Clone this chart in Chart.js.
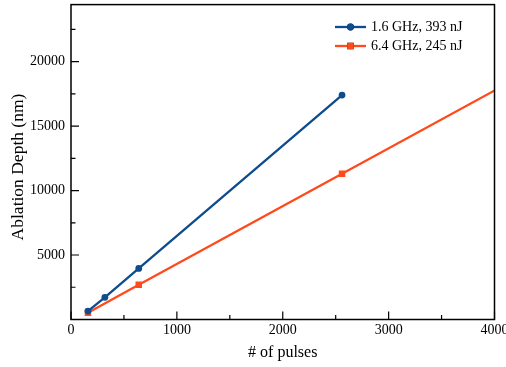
<!DOCTYPE html>
<html><head><meta charset="utf-8">
<script src="https://cdn.jsdelivr.net/npm/chart.js@4/dist/chart.umd.min.js"></script>
<style>html,body{margin:0;padding:0;background:#fff;overflow:hidden}</style>
</head><body>
<canvas id="c" width="506" height="367" style="display:block;width:506px;height:367px"></canvas>
<script>
// ---- data ----
const seriesNames = ['1.6 GHz, 393 nJ', '6.4 GHz, 245 nJ'];
const pulsesBlue = [160, 320, 640, 2560];
const depthBlue = [650, 1720, 3960, 17400];
const pulsesOrange = [160, 640, 2560, 5120];
const depthOrange = [520, 2700, 11300, 22780];
const xMajorTicks = [0, 1000, 2000, 3000, 4000];
const xMinorTicks = [500, 1500, 2500, 3500];
const yMajorTicks = [5000, 10000, 15000, 20000];
const yMinorTicks = [2500, 7500, 12500, 17500, 22500];
const xTitle = '# of pulses';
const yTitle = 'Ablation Depth (nm)';

const BLUE = '#0f4c8e';
const ORANGE = '#ff4b1c';
const FONT = "'Liberation Serif', 'Times New Roman', serif";

const toXY = (xs, ys) => xs.map((x, i) => ({x, y: ys[i]}));

const framePlugin = {
  id: 'frame',
  afterDraw(chart) {
    const {ctx, chartArea: a, scales: {x, y}} = chart;
    ctx.save();
    ctx.strokeStyle = '#000';
    ctx.lineWidth = 1.5;
    ctx.strokeRect(a.left, a.top, a.right - a.left, a.bottom - a.top);
    ctx.lineWidth = 1.2;
    ctx.beginPath();
    const tickX = (v, len) => { const px = x.getPixelForValue(v); ctx.moveTo(px, a.bottom); ctx.lineTo(px, a.bottom - len); };
    const tickY = (v, len) => { const py = y.getPixelForValue(v); ctx.moveTo(a.left, py); ctx.lineTo(a.left + len, py); };
    xMajorTicks.forEach(v => tickX(v, 8));
    xMinorTicks.forEach(v => tickX(v, 4.5));
    yMajorTicks.forEach(v => tickY(v, 8));
    yMinorTicks.forEach(v => tickY(v, 4.5));
    ctx.stroke();

    // y title
    ctx.fillStyle = '#000';
    ctx.font = "17.5px " + FONT;
    ctx.textAlign = 'center';
    ctx.textBaseline = 'middle';
    ctx.translate(18.5, 167);
    ctx.rotate(-Math.PI / 2);
    ctx.fillText(yTitle, 0, 0);
    ctx.restore();

    // legend
    ctx.save();
    ctx.font = "14px " + FONT;
    ctx.textAlign = 'left';
    ctx.textBaseline = 'middle';
    const rows = [27, 46];
    chart.data.datasets.forEach((ds, i) => {
      const yy = rows[i];
      ctx.strokeStyle = ds.borderColor;
      ctx.lineWidth = ds.borderWidth;
      ctx.beginPath(); ctx.moveTo(335, yy); ctx.lineTo(366, yy); ctx.stroke();
      Chart.helpers.drawPoint(ctx, {pointStyle: ds.pointStyle, radius: ds.pointRadius, borderWidth: 0, rotation: 0}, 350.5, yy);
      ctx.fillStyle = ds.pointBackgroundColor;
      ctx.fill();
      ctx.fillStyle = '#000';
      ctx.fillText(ds.label, 371, yy + 0.5);
    });
    ctx.restore();
  }
};

new Chart(document.getElementById('c'), {
  type: 'line',
  data: {
    datasets: [
      {label: seriesNames[0], data: toXY(pulsesBlue, depthBlue), borderColor: BLUE, backgroundColor: BLUE,
       pointBackgroundColor: BLUE, pointBorderColor: BLUE, pointBorderWidth: 0, borderWidth: 2.3,
       pointStyle: 'circle', pointRadius: 3.4, clip: 0, tension: 0},
      {label: seriesNames[1], data: toXY(pulsesOrange, depthOrange), borderColor: ORANGE, backgroundColor: ORANGE,
       pointBackgroundColor: ORANGE, pointBorderColor: ORANGE, pointBorderWidth: 0, borderWidth: 2.3,
       pointStyle: 'rect', pointRadius: 4.6, clip: 0, tension: 0}
    ]
  },
  options: {
    responsive: false,
    devicePixelRatio: 1,
    animation: false,
    layout: {padding: {top: 1, right: 11.5, left: 0, bottom: 0}},
    plugins: {legend: {display: false}, tooltip: {enabled: false}},
    scales: {
      x: {
        type: 'linear', min: 0, max: 4000,
        grid: {display: false, drawTicks: false}, border: {display: false},
        ticks: {color: '#000', font: {family: FONT, size: 14}, padding: 2, maxRotation: 0, autoSkip: false,
                callback: v => String(v)},
        afterBuildTicks: s => { s.ticks = xMajorTicks.map(v => ({value: v})); },
        title: {display: true, text: xTitle, color: '#000', font: {family: FONT, size: 16}, padding: {top: 0, bottom: 4.5}},
        afterFit: s => { s.height = 47.5; s.paddingLeft = 0; s.paddingRight = 0; }
      },
      y: {
        type: 'linear', min: 0, max: 24420,
        grid: {display: false, drawTicks: false}, border: {display: false},
        ticks: {color: '#000', font: {family: FONT, size: 14}, padding: 6, autoSkip: false,
                callback: v => String(v)},
        afterBuildTicks: s => { s.ticks = yMajorTicks.map(v => ({value: v})); },
        afterFit: s => { s.width = 71; s.paddingTop = 0; s.paddingBottom = 0; }
      }
    }
  },
  plugins: [framePlugin]
});
</script>
</body></html>
